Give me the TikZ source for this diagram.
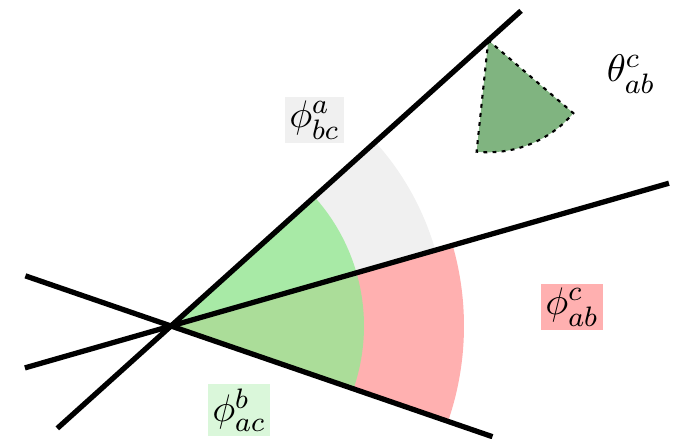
\documentclass[tikz,border=0pt]{standalone}
\usepackage{amsmath,amssymb}
\usepackage{tikz}

\definecolor{phigray}{RGB}{240,240,240}
\definecolor{phired}{RGB}{255,176,176}
\definecolor{phigreen}{RGB}{150,233,148}
\definecolor{thetagreen}{RGB}{128,180,128}

\begin{document}
\begin{tikzpicture}[line/.style={line width=1.5pt}, lab/.style={inner sep=1.2pt, font=\fontsize{11pt}{13pt}\selectfont}]
	\useasboundingbox (-1.71,-1.12) rectangle (5.12,3.26);
	\coordinate (O) at (0,0);
	% sectors between the lines
	\fill[phigray] (O) -- (16:2.75) arc[start angle=16, end angle=42, radius=2.75] -- cycle;
	\fill[phired] (O) -- (-19:2.93) arc[start angle=-19, end angle=16, radius=2.93] -- cycle;
	\fill[phigreen, fill opacity=0.8] (O) -- (-19:1.93) arc[start angle=-19, end angle=42, radius=1.93] -- cycle;
	\coordinate (T) at (42:4.27);
	\filldraw[fill=thetagreen, dash pattern=on 1.1pt off 1.5pt, line width=0.6pt] (T) -- ++(-96:1.12) arc[start angle=-96, end angle=-40.6, radius=1.12] -- cycle;
	% the three lines
	\foreach \n/\ang/\back/\fwd in {c/42/1.53/4.71, b/16/1.52/5.18, a/-19/1.54/3.40} {
		\coordinate (\n-s) at (\ang+180:\back);
		\coordinate (\n-e) at (\ang:\fwd);
		\draw[line] (\n-s) -- (\n-e);
	}
	\node[lab, fill=phigray] (phibc) at (1.435,2.06) {$\phi^a_{bc}$};
	\node[lab, fill=phired] (phiab) at (4.01,0.19) {$\phi^c_{ab}$};
	\node[lab, fill=phigreen, fill opacity=0.35, text opacity=1] (phiac) at (0.68,-0.84) {$\phi^b_{ac}$};
	\node[lab] (thetaab) at (4.60,2.52) {$\theta^c_{ab}$};
\end{tikzpicture}
\end{document}
